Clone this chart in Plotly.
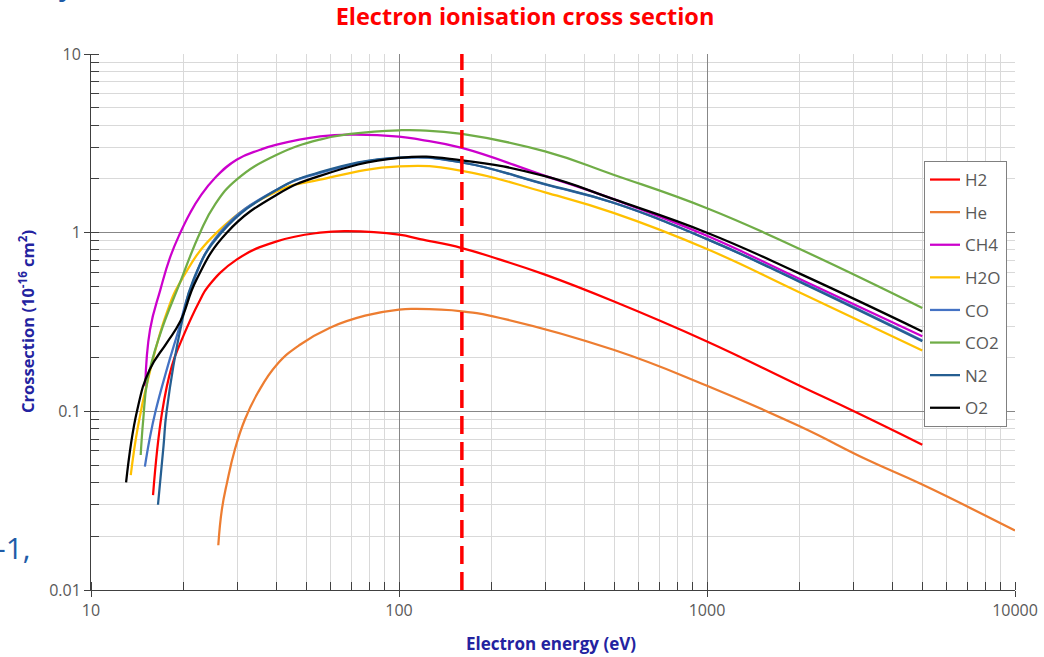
import plotly.graph_objects as go

# Electron-impact ionisation cross sections, energy in eV, cross section in 1e-16 cm^2
H2_E = [15.9, 17.0, 18.3, 19.5, 22.6, 24.0, 29.7, 40.1, 55.4, 67.6, 100, 117, 160, 213, 298, 497, 1000, 2000, 3000, 5000]
H2_S = [0.034, 0.098, 0.179, 0.241, 0.42, 0.50, 0.706, 0.894, 1.0, 1.02, 0.975, 0.92, 0.82, 0.706, 0.582, 0.413, 0.246, 0.139, 0.10, 0.065]

He_E = [25.9, 26.6, 27.65, 29.3, 31.6, 34.8, 40.1, 47.7, 59.7, 77.6, 100, 114, 160, 213, 497, 1000, 2000, 3300, 5000, 10000]
He_S = [0.0178, 0.0282, 0.0399, 0.061, 0.090, 0.127, 0.1825, 0.236, 0.294, 0.343, 0.371, 0.374, 0.363, 0.333, 0.221, 0.139, 0.0824, 0.0537, 0.0389, 0.0215]

CH4_E = [15.0, 15.55, 16.8, 18.05, 19.5, 21.0, 22.6, 25.3, 29.7, 35.4, 40.1, 55.4, 71, 100, 117, 160, 298, 497, 1000, 2000, 5000]
CH4_S = [0.138, 0.287, 0.48, 0.725, 1.0, 1.294, 1.59, 2.03, 2.56, 2.91, 3.11, 3.46, 3.54, 3.45, 3.32, 2.98, 2.08, 1.54, 0.96, 0.55, 0.263]

H2O_E = [13.46, 14.2, 15.3, 17.6, 19.7, 25.6, 40.1, 55.4, 100, 160, 298, 497, 1000, 2000, 5000]
H2O_S = [0.044, 0.082, 0.15, 0.355, 0.546, 1.0, 1.70, 1.98, 2.35, 2.22, 1.68, 1.29, 0.81, 0.463, 0.219]

CO_E = [14.96, 15.5, 16.2, 17.6, 19.3, 21.0, 26.2, 40.1, 55.4, 100, 160, 298, 497, 1000, 2000, 5000]
CO_S = [0.049, 0.07, 0.10, 0.17, 0.29, 0.48, 1.0, 1.74, 2.16, 2.62, 2.47, 1.86, 1.47, 0.92, 0.534, 0.249]

CO2_E = [14.5, 14.78, 15.26, 16.75, 19.45, 22.6, 25.26, 29.7, 40.1, 55.4, 71, 100, 117, 160, 298, 497, 1000, 2000, 5000]
CO2_S = [0.057, 0.09, 0.150, 0.269, 0.525, 1.0, 1.435, 1.98, 2.73, 3.32, 3.58, 3.74, 3.74, 3.57, 2.85, 2.11, 1.37, 0.81, 0.379]

N2_E = [16.5, 17.2, 17.6, 19.7, 21.5, 26.5, 40.1, 55.4, 100, 160, 298, 497, 1000, 2000, 5000]
N2_S = [0.030, 0.064, 0.10, 0.312, 0.546, 1.0, 1.74, 2.18, 2.63, 2.47, 1.87, 1.47, 0.92, 0.53, 0.247]

O2_E = [13.0, 14.1, 15.5, 17.6, 19.5, 22.0, 27.6, 40.1, 55.4, 100, 160, 298, 497, 1000, 2000, 5000]
O2_S = [0.040, 0.10, 0.171, 0.241, 0.319, 0.546, 1.0, 1.63, 2.08, 2.62, 2.54, 2.07, 1.54, 1.0, 0.59, 0.28]

SERIES = [
    ("H2", H2_E, H2_S, "#ff0000"),
    ("He", He_E, He_S, "#ed7d31"),
    ("CH4", CH4_E, CH4_S, "#cc00cc"),
    ("H2O", H2O_E, H2O_S, "#ffc000"),
    ("CO", CO_E, CO_S, "#4472c4"),
    ("CO2", CO2_E, CO2_S, "#70ad47"),
    ("N2", N2_E, N2_S, "#255e91"),
    ("O2", O2_E, O2_S, "#000000"),
]

MARKER_ENERGY = 160  # eV, dashed reference line

X_TICKS = [10, 100, 1000, 10000]
X_LABELS = ["10", "100", "1000", "10000"]
Y_TICKS = [0.01, 0.1, 1, 10]
Y_LABELS = ["0.01", "0.1", "1", "10"]

FONT = "Open Sans"
TICK_GREY = "#595959"
AXIS_BLUE = "#2323a0"

fig = go.Figure()
for name, e, s, col in SERIES:
    fig.add_trace(go.Scatter(
        x=e, y=s, name=name, mode="lines", legendgroup=name,
        line=dict(color=col, width=2.25, shape="spline", smoothing=1.3, simplify=False),
    ))

fig.add_shape(type="line", xref="x", yref="paper",
              x0=MARKER_ENERGY, x1=MARKER_ENERGY, y0=0, y1=1,
              line=dict(color="#ff0000", width=3.5, dash="18px,8px"))

axis_common = dict(
    type="log", showline=True, linecolor="#404040", linewidth=1,
    showgrid=True, gridcolor="#878787", gridwidth=1,
    ticks="outside", ticklen=6, tickcolor="#404040",
    tickfont=dict(family=FONT, size=16, color=TICK_GREY),
    zeroline=False, automargin=False,
    minor=dict(dtick="D1", showgrid=True, gridcolor="#d9d9d9", gridwidth=1,
               ticks="inside", ticklen=8, tickcolor="#404040"),
)

fig.update_xaxes(range=[1, 4], tickvals=X_TICKS, ticktext=X_LABELS, **axis_common)
fig.update_yaxes(range=[-2, 1], tickvals=Y_TICKS, ticktext=Y_LABELS, **axis_common)

fig.update_layout(
    width=1044, height=657,
    margin=dict(l=91, r=29, t=54, b=67, autoexpand=False),
    paper_bgcolor="white", plot_bgcolor="white",
    title=dict(text="<b>Electron ionisation cross section</b>",
               font=dict(family=FONT, size=23.5, color="#ff0000"),
               x=525 / 1044, xref="container", xanchor="center",
               y=1 - 17 / 657, yref="container", yanchor="middle"),
    legend=dict(x=(924 - 91) / 924, xanchor="left", y=(590 - 161) / 536, yanchor="top",
                bordercolor="#808080", borderwidth=1, bgcolor="white",
                font=dict(family=FONT, size=17, color=TICK_GREY),
                tracegroupgap=7.5, traceorder="grouped", itemwidth=30),
    showlegend=True,
    annotations=[
        dict(text="<b>Electron energy (eV)</b>", xref="paper", yref="paper",
             x=(551 - 91) / 924, y=(590 - 643) / 536, xanchor="center", yanchor="middle",
             showarrow=False, font=dict(family=FONT, size=17, color=AXIS_BLUE)),
        dict(text="<b>Crossection (10<sup>-16</sup> cm<sup>2</sup>)</b>", xref="paper", yref="paper",
             x=(27 - 91) / 924, y=0.5, xanchor="center", yanchor="middle", textangle=-90,
             showarrow=False, font=dict(family=FONT, size=16.5, color=AXIS_BLUE)),
        dict(text="-1,", xref="paper", yref="paper",
             x=(-6 - 91) / 924, y=(590 - 547) / 536, xanchor="left", yanchor="middle",
             showarrow=False, font=dict(family=FONT, size=30, color="#1f5ca8")),
        dict(text="y", xref="paper", yref="paper",
             x=(67 - 91) / 924, y=(590 - 6) / 536, xanchor="center", yanchor="bottom",
             showarrow=False, font=dict(family=FONT, size=30, color="#1f5ca8")),
    ],
)

fig.write_html("out.html")
